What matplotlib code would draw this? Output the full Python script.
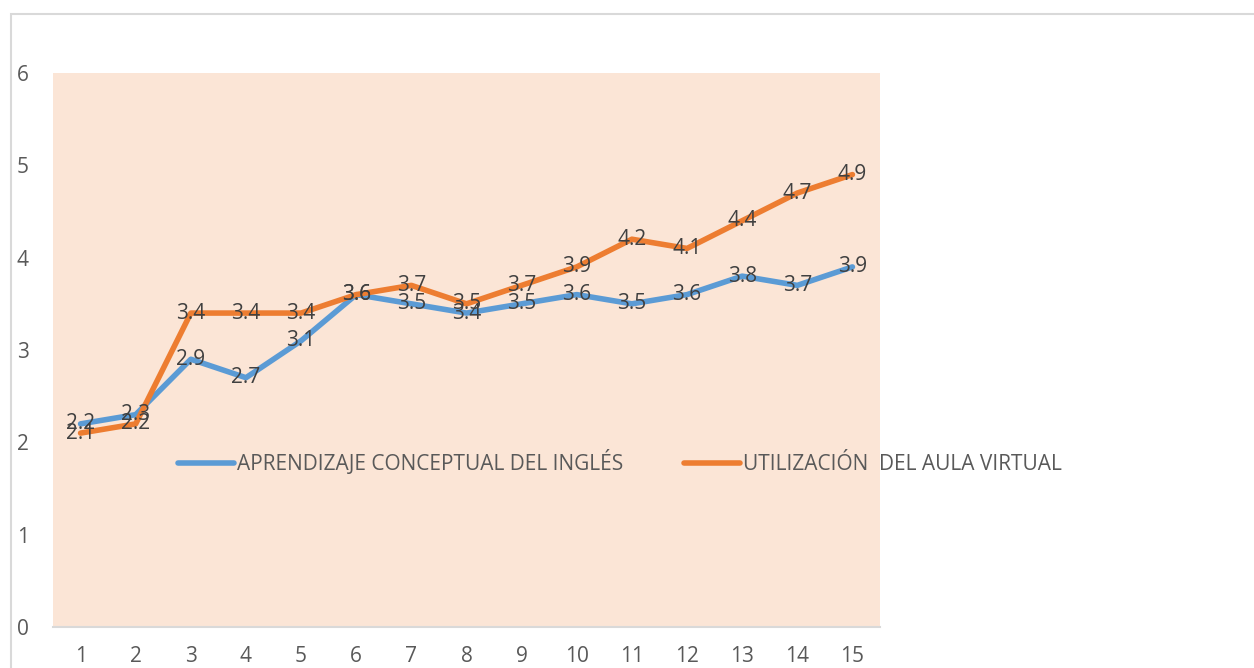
import matplotlib.pyplot as plt
from matplotlib.patches import Rectangle

# data
sessions = list(range(1, 16))
aprendizaje = [2.2, 2.3, 2.9, 2.7, 3.1, 3.6, 3.5, 3.4, 3.5, 3.6, 3.5, 3.6, 3.8, 3.7, 3.9]
aula_virtual = [2.1, 2.2, 3.4, 3.4, 3.4, 3.6, 3.7, 3.5, 3.7, 3.9, 4.2, 4.1, 4.4, 4.7, 4.9]
series_names = ['APRENDIZAJE CONCEPTUAL DEL INGLÉS', 'UTILIZACIÓN  DEL AULA VIRTUAL']
y_ticks = [0, 1, 2, 3, 4, 5, 6]

blue = '#5B9BD5'
orange = '#ED7D31'
text_col = '#404040'
tick_col = '#595959'

plt.rcParams['font.family'] = ['Open Sans', 'DejaVu Sans']
fs = 15

W, H = 1254, 668
fig = plt.figure(figsize=(W / 100, H / 100), dpi=100)

# outer chart border (only top/left visible in the crop)
fig.patches.append(Rectangle((11 / W, -0.1), 1.2, 1 - 14 / H + 0.1, transform=fig.transFigure,
                             fill=False, edgecolor='#d9d9d9', linewidth=1.5))

ax = fig.add_axes([53 / W, 1 - 627 / H, 827 / W, 554 / H])
ax.set_facecolor('#FBE5D6')

ax.plot(sessions, aprendizaje, color=blue, linewidth=4, solid_capstyle='round',
        solid_joinstyle='round', label=series_names[0])
ax.plot(sessions, aula_virtual, color=orange, linewidth=4, solid_capstyle='round',
        solid_joinstyle='round', label=series_names[1])

# data labels sit centered on the points
for xs, ys in [(sessions, aprendizaje), (sessions, aula_virtual)]:
    for x, y in zip(xs, ys):
        ax.text(x, y, f'{y:.1f}', ha='center', va='center', fontsize=fs, color=text_col)

ax.set_xlim(0.5, 15.5)
ax.set_ylim(0, 6)
ax.set_xticks(sessions)
ax.set_yticks(y_ticks)
ax.tick_params(axis='both', length=0, labelsize=fs, labelcolor=tick_col)
ax.tick_params(axis='x', pad=14)
for lab in ax.get_yticklabels():
    lab.set_horizontalalignment('left')
ax.yaxis.set_tick_params(pad=26)

for side in ['top', 'right', 'left']:
    ax.spines[side].set_visible(False)
ax.spines['bottom'].set_color('#d9d9d9')
ax.spines['bottom'].set_linewidth(1.5)

leg = ax.legend(loc='center', bbox_to_anchor=(620 / W, 1 - 463 / H), bbox_transform=fig.transFigure,
                ncol=2, frameon=False, fontsize=fs, handlelength=2.7, handletextpad=0.15,
                columnspacing=2.9)
for t in leg.get_texts():
    t.set_color(tick_col)

fig.savefig('out.png', dpi=100, facecolor='white')
